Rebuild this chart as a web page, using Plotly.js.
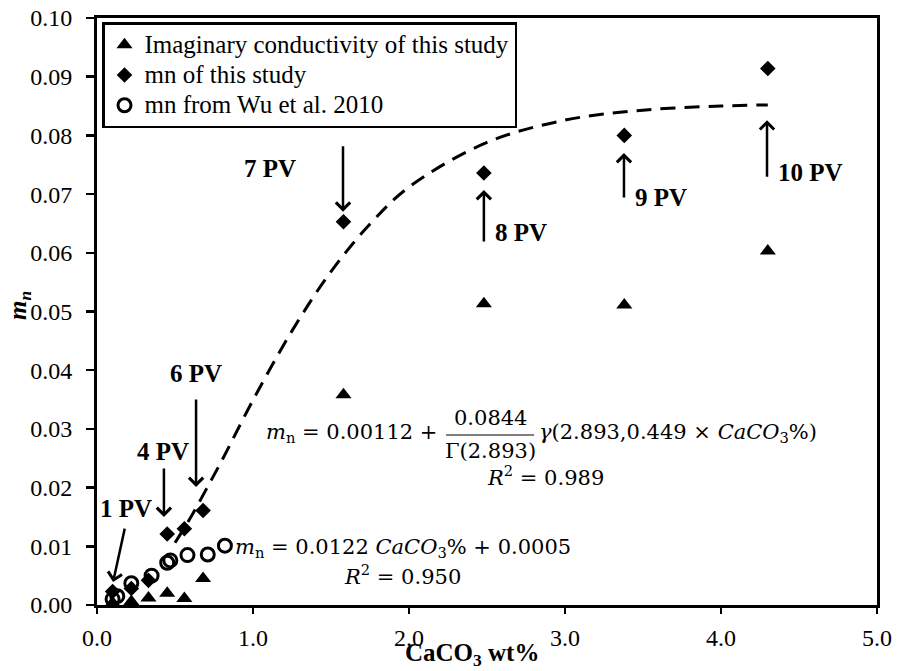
<!DOCTYPE html>
<html>
<head>
<meta charset="utf-8">
<script src="https://cdn.plot.ly/plotly-3.0.1.min.js"></script>
<style>
  html, body { margin: 0; padding: 0; background: #fff; }
  #chart { width: 897px; height: 671px; }
</style>
</head>
<body>
<div id="chart"></div>
<script>
// CaCO3 content (wt%) for each pore-volume step
const caco3 = [0.10, 0.22, 0.33, 0.45, 0.56, 0.68, 1.58, 2.48, 3.38, 4.30];
// Imaginary conductivity of this study
const imagCond = [0.0004, 0.0006, 0.0012, 0.0020, 0.0011, 0.0045, 0.0358, 0.0513, 0.0511, 0.0603];
// mn of this study
const mnStudy = [0.0023, 0.0028, 0.0042, 0.0121, 0.0130, 0.0161, 0.0653, 0.0736, 0.0800, 0.0914];
// mn from Wu et al. 2010
const wuX = [0.10, 0.13, 0.22, 0.35, 0.45, 0.47, 0.58, 0.71, 0.82];
const wuY = [0.0010, 0.0015, 0.0037, 0.0050, 0.0072, 0.0076, 0.0085, 0.0086, 0.0101];
// Gamma-function fit, sampled along the dashed curve
const fitX = [0.50, 0.60, 0.70, 0.80, 1.00, 1.25, 1.50, 1.75, 2.00, 2.50, 3.00, 3.50, 4.00, 4.30];
const fitY = [0.0106, 0.0149, 0.0197, 0.0246, 0.0349, 0.0467, 0.0568, 0.0649, 0.0712, 0.0788, 0.0826, 0.0843, 0.0850, 0.0852];
// Pore-volume labels
const pvText = ['1 PV', '4 PV', '6 PV', '7 PV', '8 PV', '9 PV', '10 PV'];
// Series names
const seriesNames = ['Imaginary conductivity of this study', 'mn of this study', 'mn from Wu et al. 2010'];

const serif = 'Liberation Serif, Times New Roman, serif';
const mathFont = 'DejaVu Serif, serif';

// plot area in pixels
const L = 97, R = 20, T = 18, B = 66, W = 897, H = 671;
const PW = W - L - R, PH = H - T - B;
const px = x => (x - L) / PW;           // pixel -> paper x
const py = y => (H - B - y) / PH;       // pixel -> paper y

// legend rows keep a compact line pitch while the text itself is larger
const legendName = s => '<span style="font-size:25px">' + s + '</span>';

const traces = [
  {
    x: fitX, y: fitY, type: 'scatter', mode: 'lines', showlegend: false,
    line: { color: '#000', width: 3, dash: '15px,9px', shape: 'spline' },
    hoverinfo: 'skip'
  },
  {
    x: caco3, y: imagCond, type: 'scatter', mode: 'markers',
    name: legendName(seriesNames[0]),
    marker: { symbol: 'triangle-up', size: 14, color: '#000' }
  },
  {
    x: caco3, y: mnStudy, type: 'scatter', mode: 'markers',
    name: legendName(seriesNames[1]),
    marker: { symbol: 'diamond', size: 12, color: '#000' }
  },
  {
    x: wuX, y: wuY, type: 'scatter', mode: 'markers',
    name: legendName(seriesNames[2]),
    marker: { symbol: 'circle-open', size: 13, color: '#000', line: { width: 3, color: '#000' } }
  }
];

// arrows: tip in data units, tail offset in pixels
const arrowTips = [
  { x: 0.103, y: 0.0039, ax: 12, ay: -55 },
  { x: 0.429, y: 0.0150, ax: 0, ay: -50 },
  { x: 0.635, y: 0.0201, ax: 0, ay: -89 },
  { x: 1.577, y: 0.0670, ax: 0, ay: -67 },
  { x: 2.480, y: 0.0707, ax: 0, ay: 53 },
  { x: 3.378, y: 0.0770, ax: 0, ay: 46 },
  { x: 4.295, y: 0.0826, ax: 0, ay: 58 }
];
// label centres in pixels
const labelPos = [[126, 508], [163, 451], [196, 373], [270, 168], [521, 233], [661, 197], [810, 172]];

const annotations = [];
arrowTips.forEach(a => {
  annotations.push({
    x: a.x, y: a.y, xref: 'x', yref: 'y', ax: a.ax, ay: a.ay,
    text: '', showarrow: true, arrowhead: 4, arrowsize: 1.1, arrowwidth: 2.5, arrowcolor: '#000'
  });
});
pvText.forEach((t, i) => {
  annotations.push({
    x: px(labelPos[i][0]), y: py(labelPos[i][1]), xref: 'paper', yref: 'paper',
    text: '<b>' + t + '</b>', showarrow: false, xanchor: 'center', yanchor: 'middle',
    font: { family: serif, size: 25, color: '#000' }
  });
});

const eqFont = { family: mathFont, size: 21, color: '#000' };
function eq(text, x, y, anchor) {
  annotations.push({
    x: px(x), y: py(y), xref: 'paper', yref: 'paper', text: text, showarrow: false,
    xanchor: anchor || 'center', yanchor: 'middle', font: eqFont
  });
}
// gamma-function fit equation
eq('<i>m</i><sub>n</sub> = 0.00112 +', 439, 433, 'right');
eq('0.0844', 490, 418);
eq('Γ(2.893)', 490, 451);
eq('<i>γ</i>(2.893,0.449 × <i>CaCO</i><sub>3</sub>%)', 537, 433, 'left');
eq('<i>R</i><sup>2</sup> = 0.989', 485, 476, 'left');
// linear fit equation
eq('<i>m</i><sub>n</sub> = 0.0122 <i>CaCO</i><sub>3</sub>% + 0.0005', 233, 548, 'left');
eq('<i>R</i><sup>2</sup> = 0.950', 402, 575);

// axis titles
annotations.push({
  x: px(19), y: py(306), xref: 'paper', yref: 'paper', showarrow: false,
  xanchor: 'center', yanchor: 'middle',
  text: '<b><i>m</i></b><sub><b><i>n</i></b></sub>', textangle: -90,
  font: { family: serif, size: 25, color: '#000' }
});
annotations.push({
  x: px(472), y: py(654), xref: 'paper', yref: 'paper', showarrow: false,
  xanchor: 'center', yanchor: 'middle',
  text: '<b>CaCO<sub>3</sub> wt%</b>',
  font: { family: serif, size: 25, color: '#000' }
});

const axisBase = {
  showgrid: false, zeroline: false, showline: true, mirror: true,
  linecolor: '#000', linewidth: 3, ticks: 'outside', tickwidth: 2.5,
  tickcolor: '#000', tickfont: { family: serif, size: 24, color: '#000' }
};

const layout = {
  width: W, height: H,
  margin: { l: L, r: R, t: T, b: B, pad: 0 },
  paper_bgcolor: '#fff', plot_bgcolor: '#fff',
  showlegend: true,
  legend: {
    x: px(102), y: py(22), xanchor: 'left', yanchor: 'top',
    bgcolor: '#fff', bordercolor: '#000', borderwidth: 2.5,
    font: { family: serif, size: 21, color: '#000' },
    itemwidth: 30, tracegroupgap: 0
  },
  xaxis: Object.assign({}, axisBase, {
    range: [0, 5], dtick: 1, tick0: 0, tickformat: '.1f', ticklen: 6, ticklabelstandoff: 3
  }),
  yaxis: Object.assign({}, axisBase, {
    range: [0, 0.10], dtick: 0.01, tick0: 0, tickformat: '.2f', ticklen: 8, ticklabelstandoff: 9
  }),
  shapes: [
    // fraction bar of the gamma-function fit
    { type: 'line', xref: 'paper', yref: 'paper', x0: px(446), x1: px(534), y0: py(435), y1: py(435),
      line: { color: '#000', width: 1.2 } }
  ],
  annotations: annotations
};

Plotly.newPlot('chart', traces, layout, { displayModeBar: false, staticPlot: true });
</script>
</body>
</html>
